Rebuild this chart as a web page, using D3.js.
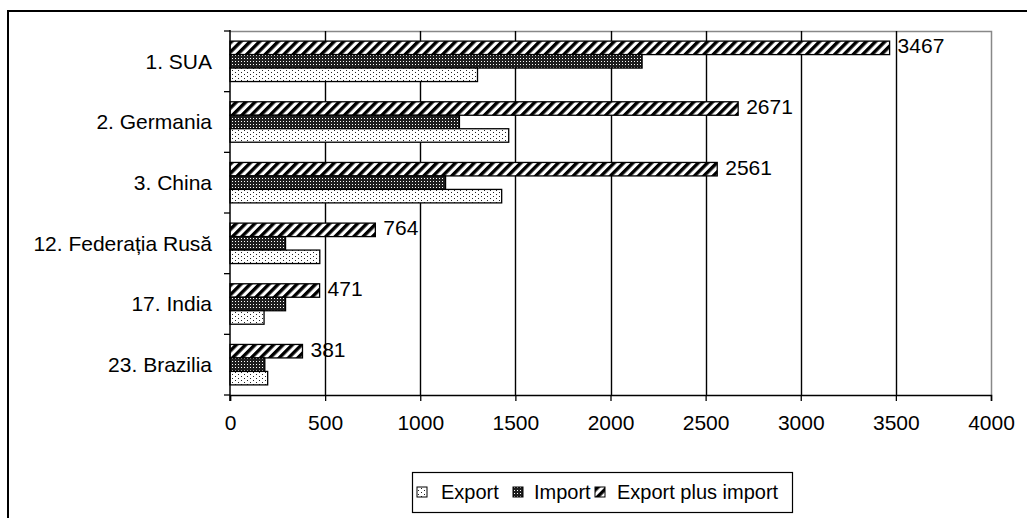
<!DOCTYPE html>
<html><head><meta charset="utf-8">
<script src="https://cdn.jsdelivr.net/npm/d3@7"></script>
<style>body{margin:0;background:#fff}svg{display:block;font-family:"Liberation Sans",Arial,sans-serif}</style>
</head><body><svg id="c" width="1027" height="518"></svg>
<script>
const categories = ["1. SUA","2. Germania","3. China","12. Federația Rusă","17. India","23. Brazilia"];
const exportVals = [1301,1465,1428,472,179,198];
const importVals = [2166,1206,1133,292,292,183];
const totalVals  = [3467,2671,2561,764,471,381];
const seriesNames = ["Export","Import","Export plus import"];
const xTicks = [0,500,1000,1500,2000,2500,3000,3500,4000];

const svg = d3.select("#c");
const L=230, R=991, T=31, B=395;
const x = d3.scaleLinear().domain([0,4000]).range([L,R]);
const y = d3.scaleBand().domain(categories).range([T,B]).padding(0);
const sub = d3.scaleBand().domain(["total","import","export"]).range([0,y.bandwidth()]).paddingInner(0).paddingOuter(0.75);

const defs = svg.append("defs");
const ph = defs.append("pattern").attr("id","pHatch").attr("patternUnits","userSpaceOnUse")
  .attr("width",6.6).attr("height",6.6).attr("patternTransform","rotate(45)");
ph.append("rect").attr("width",6.6).attr("height",6.6).attr("fill","#fff");
ph.append("rect").attr("width",3.4).attr("height",6.6).attr("fill","#000");
const pi = defs.append("pattern").attr("id","pImp").attr("patternUnits","userSpaceOnUse").attr("width",3).attr("height",3);
pi.append("rect").attr("width",3).attr("height",3).attr("fill","#1e1e1e");
pi.append("rect").attr("x",1).attr("y",1).attr("width",1).attr("height",1).attr("fill","#fff");
const pe = defs.append("pattern").attr("id","pExp").attr("patternUnits","userSpaceOnUse").attr("width",6).attr("height",4);
pe.append("rect").attr("width",6).attr("height",4).attr("fill","#fff");
pe.append("rect").attr("x",1).attr("y",0).attr("width",1).attr("height",1).attr("fill","#222");
pe.append("rect").attr("x",4).attr("y",2).attr("width",1).attr("height",1).attr("fill","#222");

svg.append("rect").attr("x",8).attr("y",11).attr("width",1040).attr("height",530)
  .attr("fill","none").attr("stroke","#000").attr("stroke-width",2);

svg.append("path").attr("d",`M${L},${T+0.5}H${R+0.5}V${B}`).attr("fill","none").attr("stroke","#888").attr("stroke-width",1.5);

svg.append("g").selectAll("line").data(xTicks.filter(d=>d>0&&d<4000)).join("line")
  .attr("x1",d=>Math.round(x(d))+0.5).attr("x2",d=>Math.round(x(d))+0.5).attr("y1",T).attr("y2",B)
  .attr("stroke","#000").attr("stroke-width",1.4);

const rows = categories.map((c,i)=>({c,e:exportVals[i],m:importVals[i],t:totalVals[i]}));
const g = svg.append("g");
const series = [["total","t","url(#pHatch)"],["import","m","url(#pImp)"],["export","e","url(#pExp)"]];
series.forEach(([k,f,fill])=>{
  g.append("g").selectAll("rect").data(rows).join("rect")
    .attr("x",x(0)).attr("y",d=>y(d.c)+sub(k)).attr("width",d=>x(d[f])-x(0)).attr("height",sub.bandwidth())
    .attr("fill",fill).attr("stroke","#000").attr("stroke-width",1.3);
});

svg.append("g").selectAll("text").data(rows).join("text")
  .attr("x",d=>x(d.t)+8).attr("y",d=>y(d.c)+sub("total")+sub.bandwidth()/2-2).attr("dy","0.35em")
  .attr("font-size",21).text(d=>d.t);

const xa = svg.append("g").attr("transform",`translate(0,${B})`)
  .call(d3.axisBottom(x).tickValues(xTicks).tickSize(6).tickPadding(14).tickFormat(d3.format("d")));
xa.select(".domain").attr("stroke","#000").attr("stroke-width",1.5);
xa.selectAll(".tick line").attr("stroke","#000").attr("stroke-width",1.3);
xa.selectAll("text").attr("font-size",21).attr("font-family","Liberation Sans, Arial, sans-serif").attr("fill","#000");

const ya = svg.append("g");
ya.append("line").attr("x1",L).attr("x2",L).attr("y1",T-1).attr("y2",B+6).attr("stroke","#000").attr("stroke-width",1.5);
const bounds = categories.map(c=>y(c)).concat([B]);
ya.selectAll("line.t").data(bounds).join("line").attr("class","t")
  .attr("x1",L-6).attr("x2",L).attr("y1",d=>d).attr("y2",d=>d).attr("stroke","#000").attr("stroke-width",1.3);
ya.selectAll("text").data(categories).join("text")
  .attr("x",212).attr("y",d=>y(d)+y.bandwidth()/2).attr("dy","0.35em").attr("text-anchor","end")
  .attr("font-size",21).text(d=>d);

const lg = svg.append("g");
lg.append("rect").attr("x",412.5).attr("y",472.5).attr("width",380).attr("height",40).attr("fill","#fff").attr("stroke","#000").attr("stroke-width",1.2);
const legItems = [
  {name:seriesNames[0],fill:"url(#pExp)",sx:417,tx:441},
  {name:seriesNames[1],fill:"url(#pImp)",sx:513,tx:534},
  {name:seriesNames[2],fill:"url(#pHatch)",sx:595,tx:617}
];
lg.selectAll("rect.s").data(legItems).join("rect").attr("class","s")
  .attr("x",d=>d.sx).attr("y",487).attr("width",10).attr("height",10).attr("fill",d=>d.fill).attr("stroke","#000");
lg.selectAll("text").data(legItems).join("text")
  .attr("x",d=>d.tx).attr("y",492).attr("dy","0.35em").attr("font-size",20).text(d=>d.name);
</script></body></html>
